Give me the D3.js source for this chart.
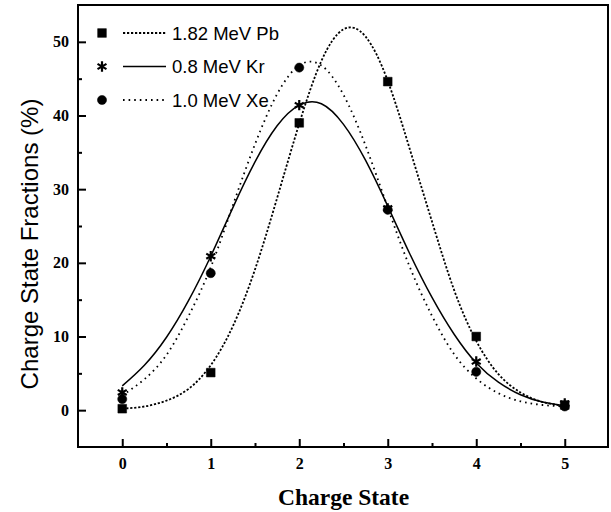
<!DOCTYPE html>
<html lang="en">
<head>
<meta charset="UTF-8">
<title>Charge State Fractions</title>
<script src="https://cdnjs.cloudflare.com/ajax/libs/d3/7.8.5/d3.min.js"></script>
<style>
    body { margin: 0; background: #fff; }
    svg { display: block; }
    .tick text { font-family: "Liberation Serif", "Times New Roman", serif; font-weight: bold; font-size: 16px; fill: #000; }
    .legend text { font-family: "Liberation Sans", Arial, sans-serif; font-size: 18.5px; fill: #000; }
</style>
</head>
<body>
<div id="chart"></div>
<script>
// measured points
const chargeStates = [0, 1, 2, 3, 4, 5];
const pbFractions = [0.2, 5.1, 39.0, 44.6, 10.0, 0.7];
const krFractions = [2.4, 20.9, 41.4, 27.4, 6.6, 0.9];
const xeFractions = [1.5, 18.6, 46.5, 27.2, 5.2, 0.5];

// fitted curves, every 0.25
const fitX  = [0, 0.25, 0.5, 0.75, 1, 1.25, 1.5, 1.75, 2, 2.25, 2.5, 2.75, 3, 3.25, 3.5, 3.75, 4, 4.25, 4.5, 4.75, 5];
const pbFit = [0.2, 0.5, 1.3, 2.9, 6.1, 11.4, 19.1, 28.8, 38.9, 47.4, 51.7, 50.7, 44.7, 35.4, 25.6, 16.3, 9.4, 4.9, 2.4, 1.1, 0.6];
const krFit = [3.3, 6.1, 9.9, 14.9, 20.9, 27.5, 33.7, 38.6, 41.4, 41.6, 38.8, 33.9, 27.7, 21.2, 15.3, 10.3, 6.4, 3.8, 2.1, 1.1, 0.6];
const xeFit = [2.0, 4.2, 7.5, 12.8, 19.4, 27.8, 36.1, 42.9, 46.8, 46.8, 42.8, 35.9, 27.5, 19.4, 12.8, 7.6, 4.3, 2.3, 1.2, 0.7, 0.5];

const seriesNames = ["1.82 MeV Pb", "0.8 MeV Kr", "1.0 MeV Xe"];

const xTicks = [0, 1, 2, 3, 4, 5];
const xMinorTicks = [0.5, 1.5, 2.5, 3.5, 4.5];
const yTicks = [0, 10, 20, 30, 40, 50];
const yMinorTicks = [5, 15, 25, 35, 45];

const width = 611, height = 512;
const margin = { left: 78, right: 2, top: 5, bottom: 65 };

const svg = d3.select("#chart").append("svg")
    .attr("width", width)
    .attr("height", height);

const x = d3.scaleLinear().domain([-0.5, 5.5]).range([margin.left, width - margin.right]);
const y = d3.scaleLinear().domain([-5, 55]).range([height - margin.bottom, margin.top]);

const series = [
    { name: seriesNames[0], values: pbFractions, fit: pbFit, symbol: d3.symbolSquare, size: 76, filled: true, dash: "2.2,1.8" },
    { name: seriesNames[1], values: krFractions, fit: krFit, symbol: d3.symbolAsterisk, size: 75, filled: false, dash: null },
    { name: seriesNames[2], values: xeFractions, fit: xeFit, symbol: d3.symbolCircle, size: 66, filled: true, dash: "1.6,4" }
];

// axes (ticks point into the plot)
svg.append("g")
    .attr("transform", `translate(0,${y(-5)})`)
    .call(d3.axisBottom(x).tickValues(xTicks).tickFormat(d3.format("d")).tickSizeInner(-8).tickSizeOuter(0).tickPadding(11));
svg.append("g")
    .attr("transform", `translate(0,${y(-5)})`)
    .call(d3.axisBottom(x).tickValues(xMinorTicks).tickFormat("").tickSizeInner(-4).tickSizeOuter(0));

svg.append("g")
    .attr("transform", `translate(${x(-0.5)},0)`)
    .call(d3.axisLeft(y).tickValues(yTicks).tickFormat(d3.format("d")).tickSizeInner(-8).tickSizeOuter(0).tickPadding(9));
svg.append("g")
    .attr("transform", `translate(${x(-0.5)},0)`)
    .call(d3.axisLeft(y).tickValues(yMinorTicks).tickFormat("").tickSizeInner(-4).tickSizeOuter(0));

svg.selectAll(".domain").remove();
svg.selectAll(".tick line").attr("stroke", "#000").attr("stroke-width", 2);

// frame
svg.append("rect")
    .attr("x", x(-0.5))
    .attr("y", y(55))
    .attr("width", x(5.5) - x(-0.5) - 1)
    .attr("height", y(-5) - y(55))
    .attr("fill", "none")
    .attr("stroke", "#000")
    .attr("stroke-width", 2);

// fit curves
const line = d3.line()
    .x((d, i) => x(fitX[i]))
    .y(d => y(d))
    .curve(d3.curveNatural);

svg.append("g").selectAll("path")
    .data(series)
    .join("path")
    .attr("d", d => line(d.fit))
    .attr("fill", "none")
    .attr("stroke", "#000")
    .attr("stroke-width", d => d.dash ? 1.8 : 1.5)
    .attr("stroke-dasharray", d => d.dash);

// markers
function drawMarker(g, s) {
    g.append("path")
        .attr("d", d3.symbol().type(s.symbol).size(s.size)())
        .attr("fill", s.filled ? "#000" : "none")
        .attr("stroke", "#000")
        .attr("stroke-width", s.filled ? 0.5 : 2.2);
}

series.forEach(s => {
    s.values.forEach((v, i) => {
        const g = svg.append("g").attr("transform", `translate(${x(chargeStates[i])},${y(v)})`);
        drawMarker(g, s);
    });
});

// legend
const legend = svg.append("g").attr("class", "legend");
series.forEach((s, i) => {
    const ly = 33 + i * 33.5;
    const g = legend.append("g").attr("transform", `translate(0,${ly})`);
    const m = g.append("g").attr("transform", "translate(102,0)");
    drawMarker(m, s);
    g.append("line")
        .attr("x1", 123).attr("x2", 166)
        .attr("stroke", "#000")
        .attr("stroke-width", s.dash ? 1.8 : 1.5)
        .attr("stroke-dasharray", s.dash);
    g.append("text")
        .attr("x", 172)
        .attr("dy", "0.36em")
        .text(s.name);
});

// axis titles
svg.append("text")
    .attr("x", x(2.5))
    .attr("y", 505)
    .attr("text-anchor", "middle")
    .style("font-family", "'Liberation Serif', 'Times New Roman', serif")
    .style("font-weight", "bold")
    .style("font-size", "23.5px")
    .text("Charge State");

svg.append("text")
    .attr("transform", "translate(38,244) rotate(-90)")
    .attr("text-anchor", "middle")
    .style("font-family", "'Liberation Sans', Arial, sans-serif")
    .style("font-size", "24px")
    .text("Charge State Fractions (%)");
</script>
</body>
</html>
